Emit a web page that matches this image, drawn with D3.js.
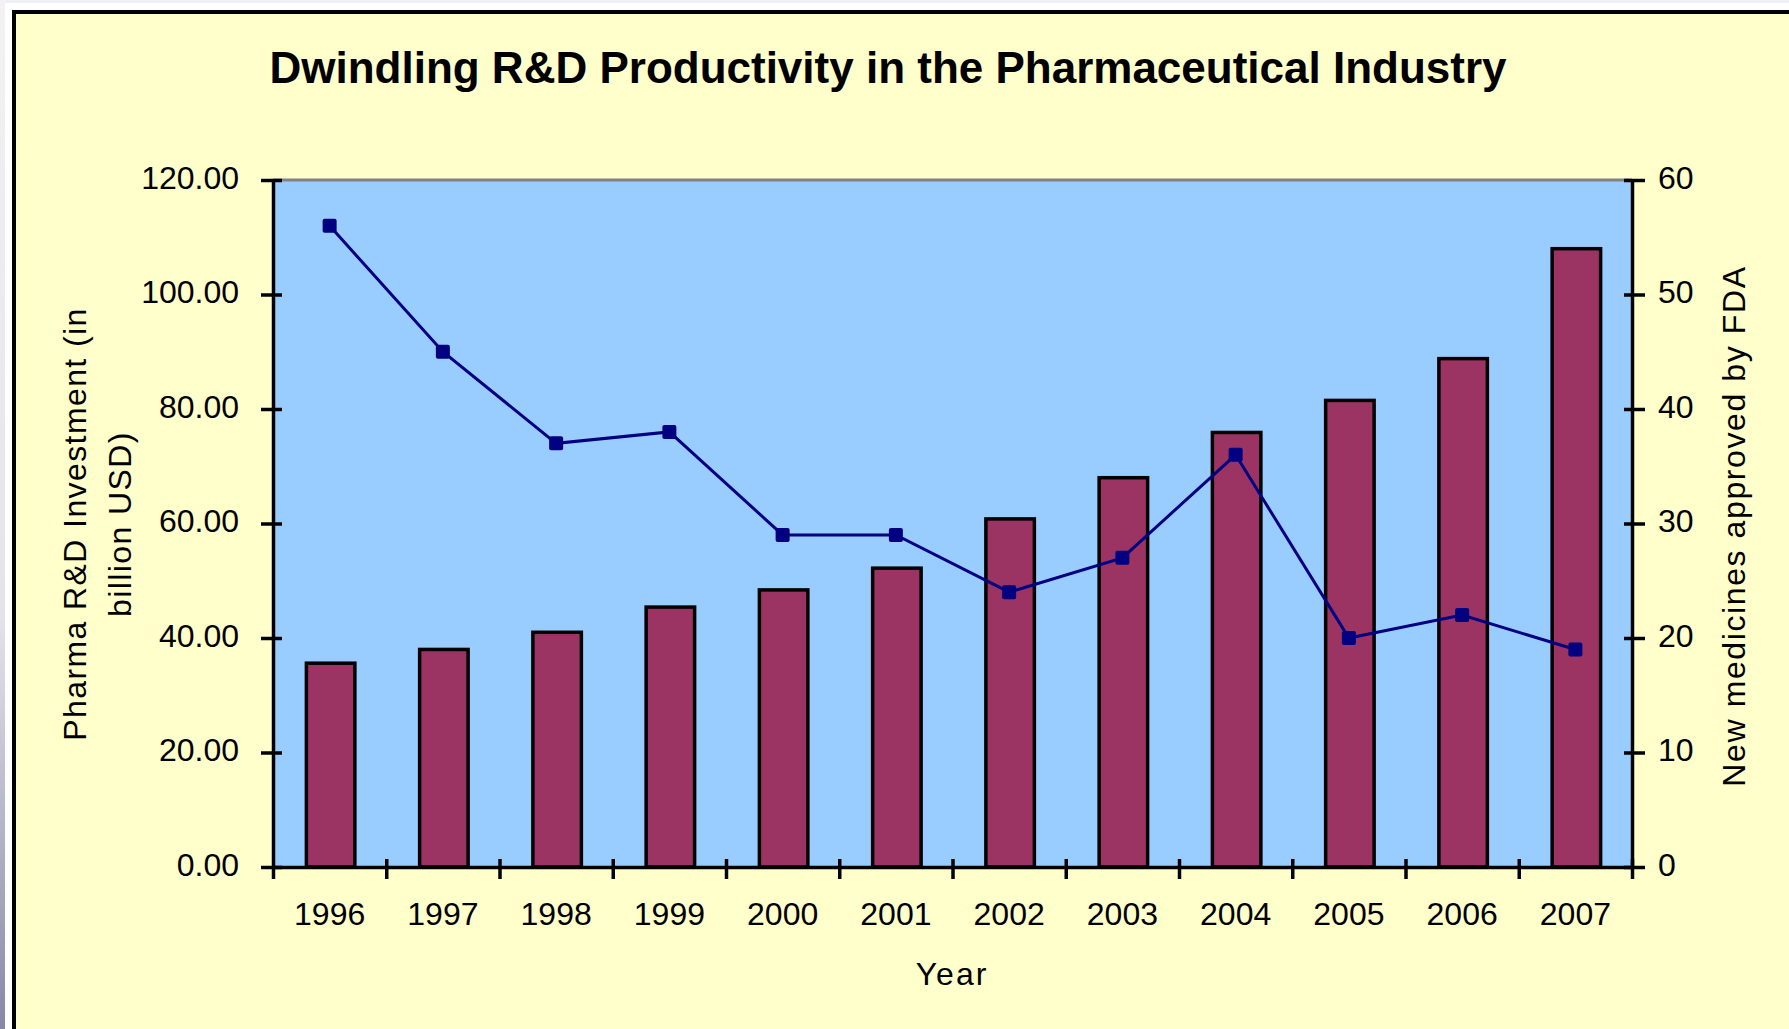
<!DOCTYPE html>
<html>
<head>
<meta charset="utf-8">
<script src="https://cdn.jsdelivr.net/npm/d3@7"></script>
<style>
  html, body { margin: 0; padding: 0; background: #ffffff; overflow: hidden; }
  svg { display: block; font-family: "Liberation Sans", Arial, sans-serif; }
</style>
</head>
<body>
<div id="chart"></div>
<script>
// chart values
var years = ["1996", "1997", "1998", "1999", "2000", "2001", "2002", "2003", "2004", "2005", "2006", "2007"];
var rdInvestment = [35.6, 38.0, 41.0, 45.4, 48.4, 52.2, 60.8, 68.0, 75.9, 81.5, 88.8, 108.0];
var fdaApprovals = [56, 45, 37, 38, 29, 29, 24, 27, 36, 20, 22, 19];
var leftTicks = [0, 20, 40, 60, 80, 100, 120];
var rightTicks = [0, 10, 20, 30, 40, 50, 60];

var width = 1789,
    height = 1029,
    plotLeft = 273,
    plotRight = 1632,
    plotTop = 180,
    plotBottom = 867;

var svg = d3.select("#chart")
            .append("svg")
              .attr("width", width)
              .attr("height", height);

// window edge around the chart
var grad = svg.append("defs").append("linearGradient")
    .attr("id", "edge").attr("x1", 0).attr("y1", 0).attr("x2", 0).attr("y2", 1);
grad.append("stop").attr("offset", "0").attr("stop-color", "#f3f1f3");
grad.append("stop").attr("offset", "0.6").attr("stop-color", "#e4e3ea");
grad.append("stop").attr("offset", "1").attr("stop-color", "#8886a8");

svg.append("rect").attr("x", 0).attr("y", 0).attr("width", width).attr("height", 3).style("fill", "#eef0f5");
svg.append("rect").attr("x", 0).attr("y", 0).attr("width", 5).attr("height", height).style("fill", "url(#edge)");

svg.append("rect")
    .attr("x", 14).attr("y", 12)
    .attr("width", width + 20).attr("height", height + 20)
    .style("fill", "#ffffcc")
    .style("stroke", "#000")
    .style("stroke-width", 4);

svg.append("text")
    .attr("x", 888).attr("y", 83)
    .attr("text-anchor", "middle")
    .style("font-size", "44px")
    .style("font-weight", "bold")
    .text("Dwindling R&D Productivity in the Pharmaceutical Industry");

// plot area
svg.append("rect")
    .attr("x", plotLeft).attr("y", plotTop)
    .attr("width", plotRight - plotLeft).attr("height", plotBottom - plotTop)
    .style("fill", "#99ccff");

svg.append("line")
    .attr("x1", plotLeft).attr("x2", plotRight)
    .attr("y1", plotTop).attr("y2", plotTop)
    .style("stroke", "#828282")
    .style("stroke-width", 3);

var x = d3.scaleBand().domain(years).range([plotLeft, plotRight]),
    yL = d3.scaleLinear().domain([0, 120]).range([plotBottom, plotTop]),
    yR = d3.scaleLinear().domain([0, 60]).range([plotBottom, plotTop]);

var barW = x.bandwidth() / 2.2 - 3;

svg.append("g")
  .selectAll("rect")
  .data(years)
  .enter().append("rect")
    .attr("x", function(d) { return x(d) + x.bandwidth() / 2 - barW / 2 + 1; })
    .attr("y", function(d, i) { return yL(rdInvestment[i]); })
    .attr("width", barW)
    .attr("height", function(d, i) { return plotBottom - yL(rdInvestment[i]); })
    .style("fill", "#9b3363")
    .style("stroke", "#000")
    .style("stroke-width", 3.5);

var line = d3.line()
    .x(function(d, i) { return x(years[i]) + x.bandwidth() / 2; })
    .y(function(d) { return yR(d); });

svg.append("path")
    .datum(fdaApprovals)
    .attr("d", line)
    .style("fill", "none")
    .style("stroke", "#000080")
    .style("stroke-width", 3);

svg.append("g")
  .selectAll("rect")
  .data(fdaApprovals)
  .enter().append("rect")
    .attr("x", function(d, i) { return x(years[i]) + x.bandwidth() / 2 - 7; })
    .attr("y", function(d) { return yR(d) - 7; })
    .attr("width", 14)
    .attr("height", 14)
    .attr("rx", 2)
    .style("fill", "#000080");

// axes
var axisL = svg.append("g")
    .attr("transform", "translate(" + plotLeft + ",0)")
    .call(d3.axisLeft(yL).tickValues(leftTicks).tickFormat(d3.format(".2f")).tickSizeInner(12).tickSizeOuter(0));

axisL.selectAll("line").attr("x1", 9);
axisL.selectAll("text").attr("x", -34).attr("dy", 8);

var axisR = svg.append("g")
    .attr("transform", "translate(" + plotRight + ",0)")
    .call(d3.axisRight(yR).tickValues(rightTicks).tickSizeInner(13).tickSizeOuter(0));

axisR.selectAll("line").attr("x1", -8);
axisR.selectAll("text").attr("x", 26).attr("dy", 8);

var xEdges = d3.scaleLinear().domain([0, years.length]).range([plotLeft, plotRight]);

var axisB = svg.append("g")
    .attr("transform", "translate(0," + plotBottom + ")")
    .call(d3.axisBottom(xEdges).ticks(years.length).tickFormat("").tickSizeInner(12).tickSizeOuter(0));

axisB.selectAll("line").attr("y1", function(d) { return d == 0 ? 0 : -8; });

var labelsB = svg.append("g")
    .attr("transform", "translate(0," + plotBottom + ")")
    .call(d3.axisBottom(x).tickSize(0));

labelsB.select(".domain").remove();
labelsB.selectAll("text").attr("y", 58).attr("dy", 0);

svg.selectAll(".domain, .tick line")
    .style("stroke", "#000")
    .style("stroke-width", 3.5);

svg.selectAll(".tick text")
    .style("font-family", "'Liberation Sans', Arial, sans-serif")
    .style("font-size", "32px")
    .style("fill", "#000");

// axis titles
svg.append("text")
    .attr("x", 952).attr("y", 985)
    .attr("text-anchor", "middle")
    .style("font-size", "32px")
    .style("letter-spacing", "2px")
    .text("Year");

var titleL = svg.append("text")
    .attr("transform", "rotate(-90)")
    .attr("text-anchor", "middle")
    .style("font-size", "32px")
    .style("letter-spacing", "1.4px");

titleL.append("tspan").attr("x", -524).attr("y", 86).text("Pharma R&D Investment (in");
titleL.append("tspan").attr("x", -524).attr("y", 131).text("billion USD)");

svg.append("text")
    .attr("transform", "translate(1745,526) rotate(-90)")
    .attr("text-anchor", "middle")
    .style("font-size", "32px")
    .style("letter-spacing", "1.6px")
    .text("New medicines approved by FDA");
</script>
</body>
</html>
